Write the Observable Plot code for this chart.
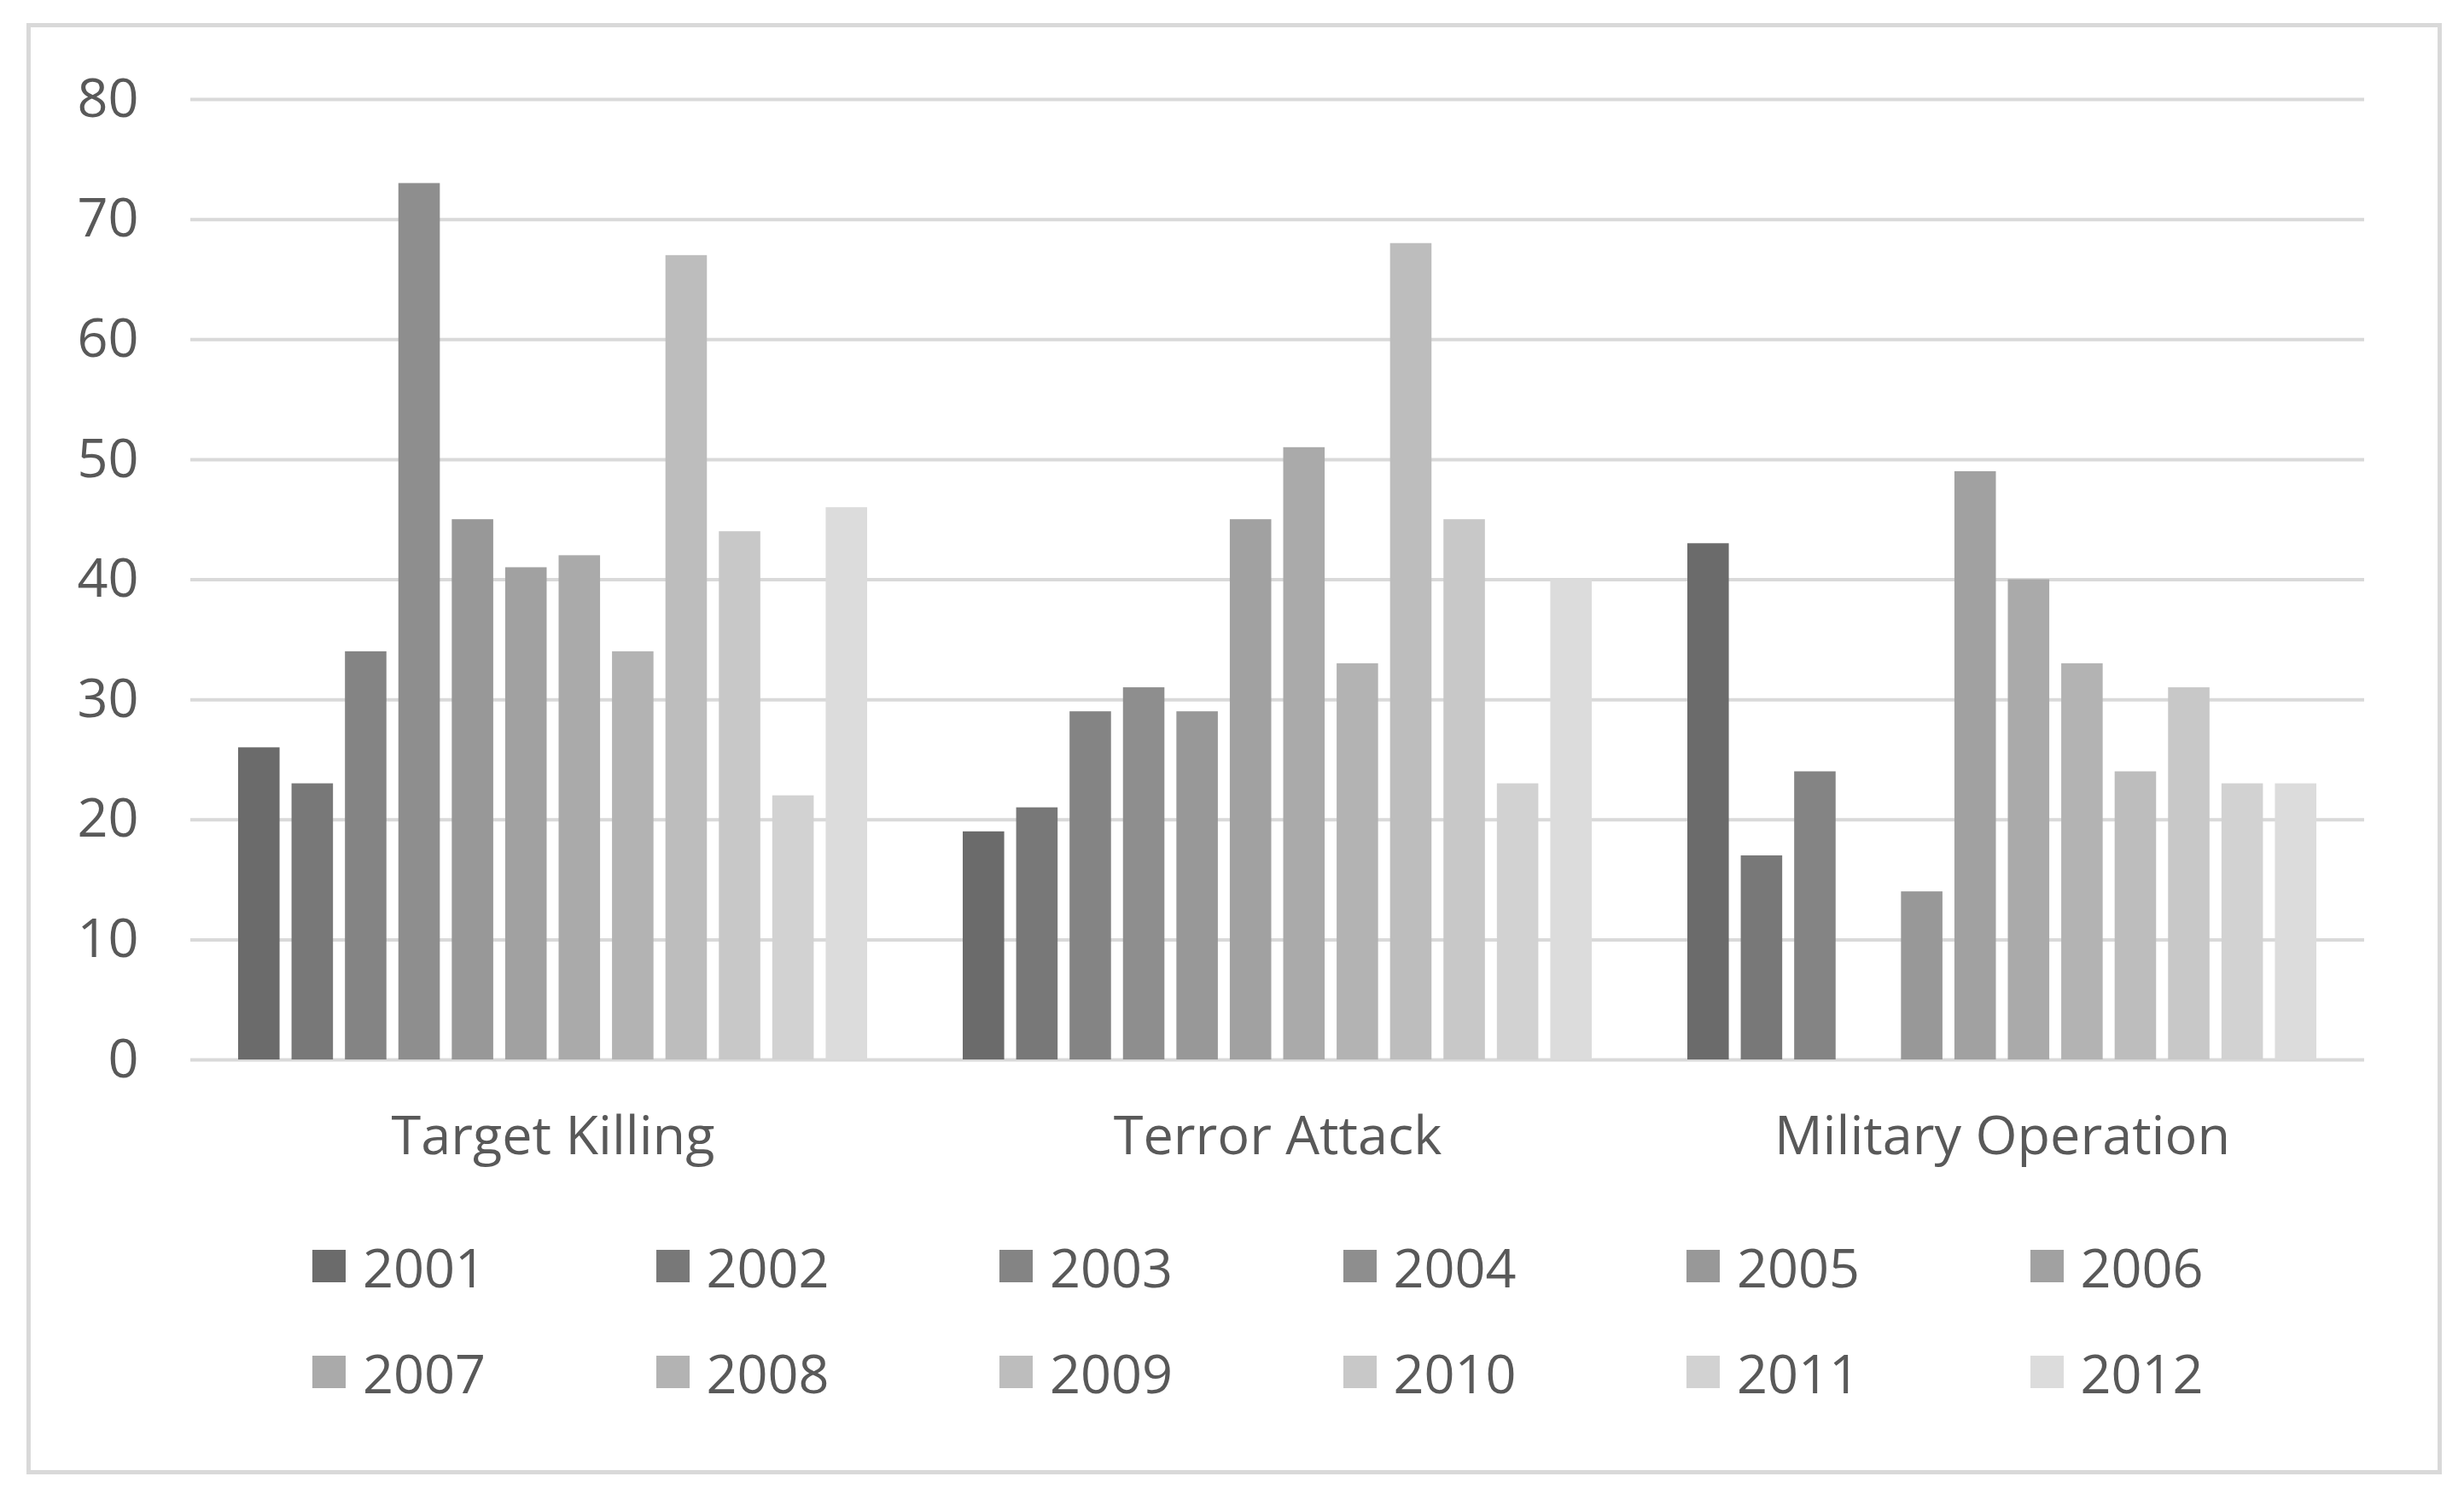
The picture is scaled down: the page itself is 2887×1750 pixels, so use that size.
<!DOCTYPE html>
<html>
<head>
<meta charset="utf-8">
<script src="https://cdn.jsdelivr.net/npm/d3@7"></script>
<script src="https://cdn.jsdelivr.net/npm/@observablehq/plot@0.6"></script>
<style>
  html, body { margin: 0; padding: 0; background: #ffffff; }
  body { width: 2887px; height: 1750px; position: relative; overflow: hidden; font-family: "Open Sans", sans-serif; }
  #frame { position: absolute; left: 31px; top: 27px; width: 2820px; height: 1690px; border: 5px solid #d9d9d9; box-sizing: content-box; }
  #chart { position: absolute; left: 0; top: 0; }
  .leg-item { position: absolute; display: flex; align-items: center; font-size: 63px; color: #595959; line-height: 1; white-space: nowrap; }
  .leg-sw { width: 39px; height: 38px; margin-right: 20px; flex: none; }
</style>
</head>
<body>
<div id="frame"></div>
<div id="chart"></div>
<div id="legend"></div>
<script>
// ---- data ----
const categories = ["Target Killing", "Terror Attack", "Military Operation"];
const years = ["2001","2002","2003","2004","2005","2006","2007","2008","2009","2010","2011","2012"];
const targetKilling     = [26, 23, 34, 73, 45, 41, 42, 34, 67, 44, 22, 46];
const terrorAttack      = [19, 21, 29, 31, 29, 45, 51, 33, 68, 45, 23, 40];
const militaryOperation = [43, 17, 24, null, 14, 49, 40, 33, 24, 31, 23, 23];
const yearColors = ["#6b6b6b","#787878","#848484","#8e8e8e","#989898","#a1a1a1","#aaaaaa","#b3b3b3","#bdbdbd","#c8c8c8","#d2d2d2","#dcdcdc"];
const yTicks = [0, 10, 20, 30, 40, 50, 60, 70, 80];

const seriesByCategory = [targetKilling, terrorAttack, militaryOperation];
const rows = [];
categories.forEach((c, ci) => {
  years.forEach((yr, yi) => {
    const v = seriesByCategory[ci][yi];
    if (v != null) rows.push({category: c, year: yr, value: v});
  });
});

const plot = Plot.plot({
  width: 2887,
  height: 1400,
  marginLeft: 223,
  marginRight: 117,
  marginTop: 116,
  marginBottom: 159,
  style: {fontFamily: "'Open Sans', sans-serif", fontSize: "63px", color: "#595959", background: "transparent"},
  fx: {domain: categories, padding: 0, label: null, tickSize: 0, tickPadding: 66, axis: "bottom"},
  x: {domain: years, paddingInner: 0.224, paddingOuter: 0.895, axis: null, round: false},
  y: {domain: [0, 80], ticks: yTicks, tickSize: 0, tickPadding: 61, label: null, tickFormat: d => String(d)},
  color: {domain: years, range: yearColors},
  marks: [
    Plot.ruleY(yTicks, {stroke: "#d9d9d9", strokeWidth: 4}),
    Plot.barY(rows, {fx: "category", x: "year", y: "value", fill: "year"}),
  ]
});
document.getElementById("chart").appendChild(plot);

// ---- legend (HTML, below the svg area) ----
const legend = document.getElementById("legend");
years.forEach((yr, i) => {
  const col = i % 6, row = Math.floor(i / 6);
  const item = document.createElement("div");
  item.className = "leg-item";
  item.style.left = (366 + col * 402.5) + "px";
  item.style.top = (1483 + row * 124 - 32) + "px";
  item.style.height = "64px";
  const sw = document.createElement("div");
  sw.className = "leg-sw";
  sw.style.background = yearColors[i];
  const tx = document.createElement("span");
  tx.textContent = yr;
  item.appendChild(sw);
  item.appendChild(tx);
  legend.appendChild(item);
});
</script>
</body>
</html>
